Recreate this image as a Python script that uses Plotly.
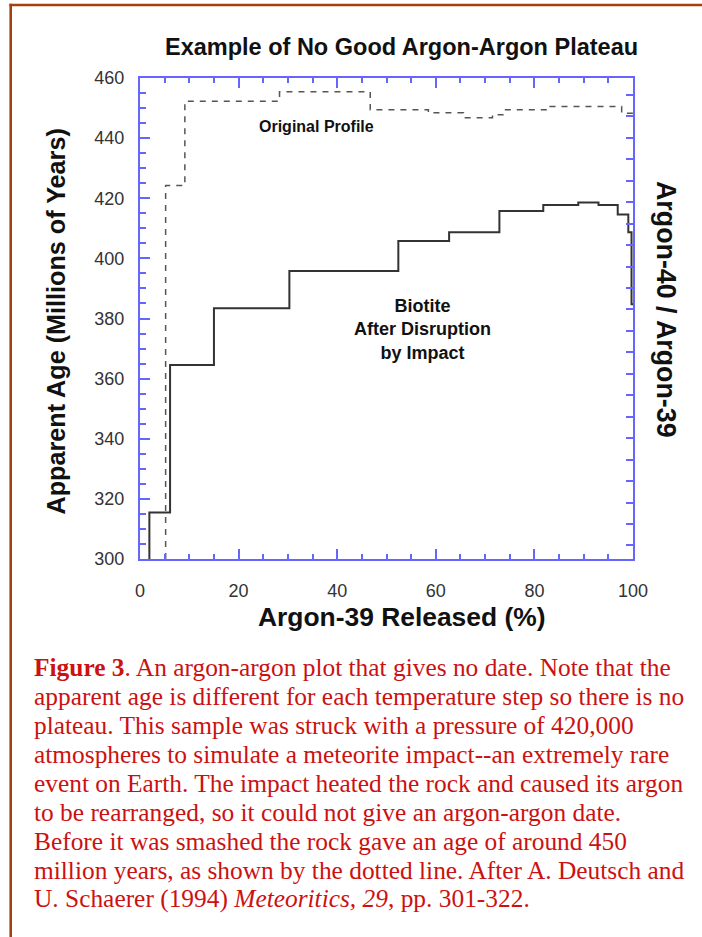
import plotly.graph_objects as go

# ---------------- data ----------------
# Biotite after disruption by impact: step edges (% Ar-39 released) and apparent ages (Ma)
biotite_edges = [1.9, 1.9, 6.1, 15.0, 30.3, 52.4, 62.7, 72.9, 81.8, 88.9, 93.0, 96.9, 99.05, 99.7, 100.0]
biotite_ages = [300.0, 315.5, 364.5, 383.4, 395.8, 405.8, 408.7, 415.8, 417.75, 418.6, 417.75, 414.6, 408.7, 384.7, 384.7]

# Original profile (dashed)
orig_edges = [5.2, 5.2, 9.1, 28.3, 46.7, 58.5, 65.6, 71.5, 73.6, 83.2, 97.7, 100.0]
orig_ages = [300.0, 424.2, 452.3, 455.4, 449.4, 448.4, 446.8, 447.8, 449.4, 450.5, 448.3, 448.3]

x_ticks = [0, 20, 40, 60, 80, 100]
y_ticks = [300, 320, 340, 360, 380, 400, 420, 440, 460]

title_text = "Example of No Good Argon-Argon Plateau"
x_title = "Argon-39 Released (%)"
y_title = "Apparent Age (Millions of Years)"
y2_title = "Argon-40 / Argon-39"
label_original = "Original Profile"
label_biotite = "Biotite<br>After Disruption<br>by Impact"

caption_lines = [
    "<b>Figure 3</b>. An argon-argon plot that gives no date. Note that the",
    "apparent age is different for each temperature step so there is no",
    "plateau. This sample was struck with a pressure of 420,000",
    "atmospheres to simulate a meteorite impact--an extremely rare",
    "event on Earth. The impact heated the rock and caused its argon",
    "to be rearranged, so it could not give an argon-argon date.",
    "Before it was smashed the rock gave an age of around 450",
    "million years, as shown by the dotted line. After A. Deutsch and",
    "U. Schaerer (1994) <i>Meteoritics, 29</i>, pp. 301-322.",
]

# ---------------- layout geometry ----------------
W, H = 702, 937
L, R, T, B = 140, 633, 78, 559  # plot area in pixels
PW, PH = R - L, B - T


def px(x):
    return (x - L) / PW


def py(y):
    return (B - y) / PH


AXIS_BLUE = "#6666ff"
BORDER = "#a3410f"
SANS = "Liberation Sans, Arial, sans-serif"
SERIF = "Liberation Serif, Times New Roman, serif"

fig = go.Figure()

fig.add_trace(go.Scatter(
    x=orig_edges, y=orig_ages, mode="lines", line_shape="hv",
    line=dict(color="#555555", width=1.5, dash="6px,6px"),
    hoverinfo="skip", showlegend=False,
))
fig.add_trace(go.Scatter(
    x=biotite_edges, y=biotite_ages, mode="lines", line_shape="hv",
    line=dict(color="#333333", width=2),
    hoverinfo="skip", showlegend=False,
))
# invisible trace for right axis
fig.add_trace(go.Scatter(x=[None], y=[None], yaxis="y2", showlegend=False, hoverinfo="skip"))

fig.update_layout(
    width=W, height=H, autosize=False,
    margin=dict(l=L, r=W - R, t=T, b=H - B, pad=0),
    paper_bgcolor="white", plot_bgcolor="white",
    xaxis=dict(
        range=[0, 100], tickvals=x_ticks, ticks="inside", ticklen=10, tickwidth=1.5,
        tickcolor=AXIS_BLUE, showline=True, linecolor=AXIS_BLUE, linewidth=2,
        mirror="ticks", showgrid=False, zeroline=False,
        tickfont=dict(family=SANS, size=18, color="#333333"),
        ticklabelstandoff=14,
        minor=dict(dtick=5, ticks="inside", ticklen=5, tickcolor=AXIS_BLUE, tickwidth=1.5, showgrid=False),
    ),
    yaxis=dict(
        range=[300, 460], tickvals=y_ticks, ticks="inside", ticklen=10, tickwidth=1.5,
        tickcolor=AXIS_BLUE, showline=True, linecolor=AXIS_BLUE, linewidth=2,
        showgrid=False, zeroline=False,
        tickfont=dict(family=SANS, size=18, color="#333333"),
        ticklabelstandoff=10,
        minor=dict(dtick=5, ticks="inside", ticklen=6, tickcolor=AXIS_BLUE, tickwidth=1.5, showgrid=False),
    ),
    yaxis2=dict(
        overlaying="y", side="right", range=[-0.63, 21.79], dtick=1, tick0=0,
        ticks="inside", ticklen=7, tickwidth=1.5, tickcolor=AXIS_BLUE,
        showline=True, linecolor=AXIS_BLUE, linewidth=2,
        showticklabels=False, showgrid=False, zeroline=False,
    ),
)

ann = []
ann.append(dict(text="<b>%s</b>" % title_text, xref="paper", yref="paper", x=px(401.5), y=py(47),
                xanchor="center", yanchor="middle", showarrow=False,
                font=dict(family=SANS, size=23.5, color="#111111")))
ann.append(dict(text="<b>%s</b>" % x_title, xref="paper", yref="paper", x=px(401.5), y=py(617),
                xanchor="center", yanchor="middle", showarrow=False,
                font=dict(family=SANS, size=26.4, color="#111111")))
ann.append(dict(text="<b>%s</b>" % y_title, xref="paper", yref="paper", x=px(55), y=py(321.5),
                xanchor="center", yanchor="middle", showarrow=False, textangle=-90,
                font=dict(family=SANS, size=25.2, color="#111111")))
ann.append(dict(text="<b>%s</b>" % y2_title, xref="paper", yref="paper", x=px(666), y=py(309),
                xanchor="center", yanchor="middle", showarrow=False, textangle=90,
                font=dict(family=SANS, size=26.8, color="#111111")))
ann.append(dict(text="<b>%s</b>" % label_original, xref="x", yref="y", x=35.8, y=443.8,
                xanchor="center", yanchor="middle", showarrow=False,
                font=dict(family=SANS, size=16, color="#111111")))
ann.append(dict(text="<b>%s</b>" % label_biotite, xref="x", yref="y", x=57.2, y=376.3,
                xanchor="center", yanchor="middle", showarrow=False, align="center",
                font=dict(family=SANS, size=18, color="#111111")))
for i, line in enumerate(caption_lines):
    ann.append(dict(text=line, xref="paper", yref="paper", x=px(32), y=py(666.5 + i * 29.05),
                    xanchor="left", yanchor="middle", showarrow=False, align="left",
                    font=dict(family=SERIF, size=25.4, color="#cc1111")))
fig.update_layout(annotations=ann)

# page border (left and top)
fig.add_shape(type="line", xref="paper", yref="paper", x0=px(10.7), x1=px(10.7), y0=py(H + 5), y1=py(3.8),
              line=dict(color=BORDER, width=2.6))
fig.add_shape(type="line", xref="paper", yref="paper", x0=px(9.4), x1=px(W + 5), y0=py(5), y1=py(5),
              line=dict(color=BORDER, width=2.6))

fig.write_html("out.html")
